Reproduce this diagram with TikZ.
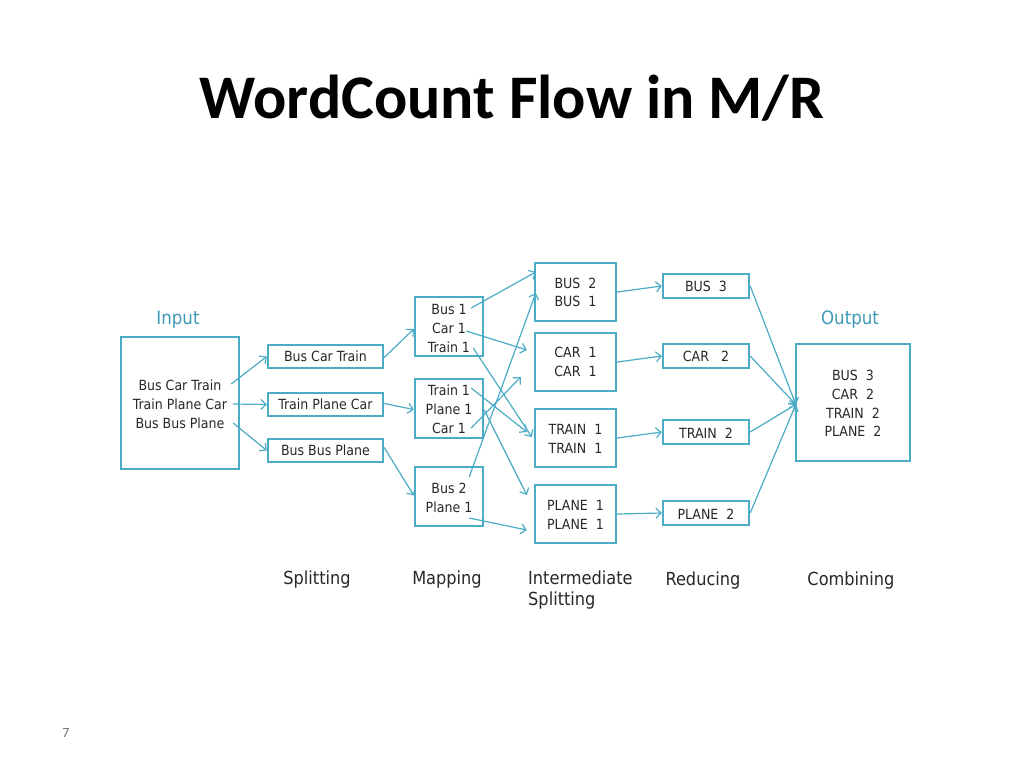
\documentclass[tikz,border=0pt]{standalone}
\usepackage{fontspec}
\setmainfont{Carlito}
\newfontfamily\boxfont{DejaVu Sans Condensed}
\usetikzlibrary{arrows.meta,calc}
\definecolor{tealbox}{RGB}{75,172,198}
\definecolor{teallbl}{RGB}{62,152,182}
\definecolor{txtgray}{RGB}{40,40,40}
\begin{document}
\begin{tikzpicture}[x=1pt,y=-1pt,
  box/.style={draw=tealbox,line width=2.4pt,inner sep=0pt},
  txt/.style={font=\boxfont\fontsize{14}{16}\selectfont,text=txtgray,inner sep=0pt,anchor=center},
  lbl/.style={font=\boxfont\fontsize{18}{21}\selectfont,text=txtgray,inner sep=0pt},
  head/.style={font=\boxfont\fontsize{18.5}{21}\selectfont,text=teallbl,inner sep=0pt},
  arr/.style={draw=tealbox,line width=1.2pt,-{Straight Barb[length=5pt,width=10pt]}}]
\useasboundingbox[fill=white] (0,0) rectangle (1024,768);

% title
\node[font=\bfseries\fontsize{62}{70}\selectfont,inner sep=0pt] (title) at (512,98) {WordCount Flow in M/R};
\node[font=\fontsize{14}{16}\selectfont,text=black!55,inner sep=0pt] (pg) at (66,733) {7};

% boxes
\node[box,minimum width=118pt,minimum height=132pt] (inp) at (180,403) {};
\node[head] (inlbl) at (178,320) {Input};
\node[txt] (in1) at (180,385) {Bus Car Train};
\node[txt] (in2) at (180,404) {Train Plane Car};
\node[txt] (in3) at (180,423) {Bus Bus Plane};

\node[box,minimum width=115pt,minimum height=23pt] (s1) at (325.5,356.5) {};
\node[box,minimum width=115pt,minimum height=23pt] (s2) at (325.5,404.5) {};
\node[box,minimum width=115pt,minimum height=23pt] (s3) at (325.5,450.5) {};
\node[txt] (s1t) at (325.5,356.5) {Bus Car Train};
\node[txt] (s2t) at (325.5,404.5) {Train Plane Car};
\node[txt] (s3t) at (325.5,450.5) {Bus Bus Plane};

\node[box,minimum width=68pt,minimum height=59pt] (m1) at (449,326.5) {};
\node[box,minimum width=68pt,minimum height=59pt] (m2) at (449,408.5) {};
\node[box,minimum width=68pt,minimum height=59pt] (m3) at (449,496.5) {};
\node[txt] (m1a) at (449,309) {Bus 1};
\node[txt] (m1b) at (449,328) {Car 1};
\node[txt] (m1c) at (449,347) {Train 1};
\node[txt] (m2a) at (449,390) {Train 1};
\node[txt] (m2b) at (449,409) {Plane 1};
\node[txt] (m2c) at (449,428) {Car 1};
\node[txt] (m3a) at (449,488) {Bus 2};
\node[txt] (m3b) at (449,507) {Plane 1};

\node[box,minimum width=81pt,minimum height=58pt] (i1) at (575.5,292) {};
\node[box,minimum width=81pt,minimum height=58pt] (i2) at (575.5,362) {};
\node[box,minimum width=81pt,minimum height=58pt] (i3) at (575.5,438) {};
\node[box,minimum width=81pt,minimum height=58pt] (i4) at (575.5,514) {};
\node[txt] (i1a) at (575.5,283) {BUS\ \ 2};
\node[txt] (i1b) at (575.5,301) {BUS\ \ 1};
\node[txt] (i2a) at (575.5,352) {CAR\ \ 1};
\node[txt] (i2b) at (575.5,371) {CAR\ \ 1};
\node[txt] (i3a) at (575.5,429) {TRAIN\ \ 1};
\node[txt] (i3b) at (575.5,448) {TRAIN\ \ 1};
\node[txt] (i4a) at (575.5,505) {PLANE\ \ 1};
\node[txt] (i4b) at (575.5,524) {PLANE\ \ 1};

\node[box,minimum width=86pt,minimum height=24pt] (r1) at (706,286) {};
\node[box,minimum width=86pt,minimum height=24pt] (r2) at (706,356) {};
\node[box,minimum width=86pt,minimum height=24pt] (r3) at (706,432) {};
\node[box,minimum width=86pt,minimum height=24pt] (r4) at (706,513) {};
\node[txt] (r1t) at (706,286) {BUS\ \ 3};
\node[txt] (r2t) at (706,356) {CAR\ \ \ 2};
\node[txt] (r3t) at (706,433) {TRAIN\ \ 2};
\node[txt] (r4t) at (706,514) {PLANE\ \ 2};

\node[box,minimum width=114pt,minimum height=117pt] (out) at (853,402.5) {};
\node[head] (outlbl) at (850,320) {Output};
\node[txt] (o1) at (853,375) {BUS\ \ 3};
\node[txt] (o2) at (853,394) {CAR\ \ 2};
\node[txt] (o3) at (853,413) {TRAIN\ \ 2};
\node[txt] (o4) at (853,431) {PLANE\ \ 2};

% bottom labels
\node[lbl] (lsplit) at (317,580) {Splitting};
\node[lbl] (lmap) at (447,580) {Mapping};
\node[lbl,anchor=west,align=left] (linter) at (528,590) {Intermediate\\Splitting};
\node[lbl] (lred) at (703,581) {Reducing};
\node[lbl] (lcomb) at (851,581) {Combining};

% arrows input -> split
\draw[arr] ($(inp.east)+(-9,-19)$) -- (s1.west);
\draw[arr] ($(inp.east)+(-7,1)$) -- (s2.west);
\draw[arr] ($(inp.east)+(-7,20)$) -- (s3.west);
% split -> map
\draw[arr] ($(s1.east)+(0,1)$) -- ($(m1.west)+(0,2.5)$);
\draw[arr] ($(s2.east)+(0,-1)$) -- ($(m2.west)+(0,1)$);
\draw[arr] ($(s3.east)+(0,-3)$) -- ($(m3.west)+(0,-1)$);
% map -> intermediate
\draw[arr] ($(m1.east)+(-13,-18.5)$) -- ($(i1.west)+(2,-20)$);
\draw[arr] ($(m1.east)+(-18,4.5)$) -- ($(i2.west)+(-7,-12)$);
\draw[arr] ($(m1.east)+(-11,21.5)$) -- ($(i3.west)+(-2,-1)$);
\draw[arr] ($(m2.east)+(-13,-20.5)$) -- ($(i3.west)+(-7,-6)$);
\draw[arr] ($(m2.east)+(0,1.5)$) -- ($(i4.west)+(-7,-19)$);
\draw[arr] ($(m2.east)+(-13,19.5)$) -- ($(i2.west)+(-13,15)$);
\draw[arr] ($(m3.east)+(-15,-19.5)$) -- ($(i1.west)+(2,1)$);
\draw[arr] ($(m3.east)+(-15,21.5)$) -- ($(i4.west)+(-7,16)$);
% intermediate -> reduce
\draw[arr] (i1.east) -- (r1.west);
\draw[arr] (i2.east) -- (r2.west);
\draw[arr] (i3.east) -- (r3.west);
\draw[arr] (i4.east) -- (r4.west);
% reduce -> output
\draw[arr] (r1.east) -- ($(out.west)+(1,2)$);
\draw[arr] (r2.east) -- ($(out.west)+(1,2)$);
\draw[arr] (r3.east) -- ($(out.west)+(1,2)$);
\draw[arr] (r4.east) -- ($(out.west)+(1,2)$);
\end{tikzpicture}
\end{document}
